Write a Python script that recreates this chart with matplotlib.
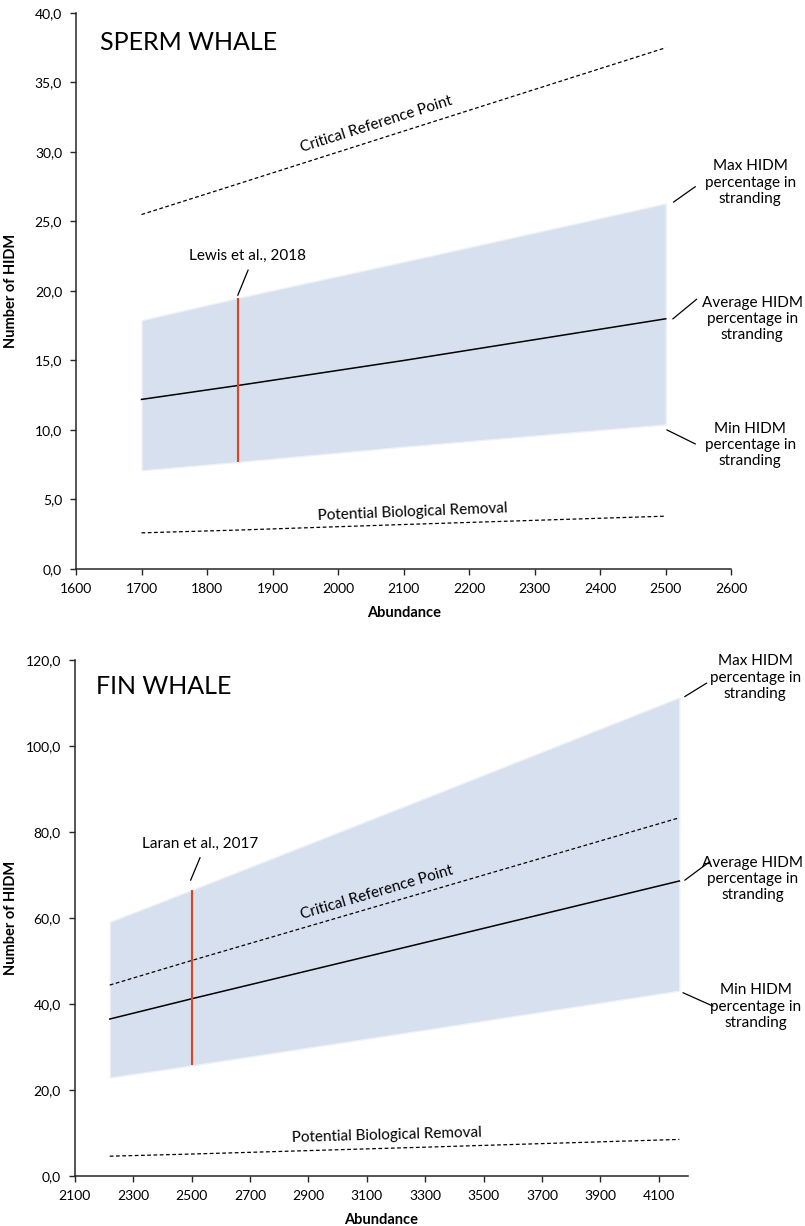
import numpy as np
import matplotlib
matplotlib.use('Agg')
import matplotlib.pyplot as plt
from matplotlib.ticker import FuncFormatter

plt.rcParams['font.family'] = ['Lato', 'DejaVu Sans']

# Sperm whale scenario
sperm_abundance = [1700, 1847, 2100, 2500]
sperm_max = [17.9, 19.5, 22.1, 26.3]
sperm_avg = [12.2, 13.2, 15.0, 18.0]
sperm_min = [7.1, 7.7, 8.8, 10.4]
sperm_crp = [25.5, 27.7, 31.5, 37.5]
sperm_pbr = [2.6, 2.8, 3.2, 3.8]
lewis_abundance = 1847

# Fin whale scenario
fin_abundance = [2220, 2500, 3300, 4170]
fin_max = [59.1, 66.5, 87.9, 111.3]
fin_avg = [36.5, 41.2, 54.3, 68.6]
fin_min = [22.9, 25.7, 34.0, 43.1]
fin_crp = [44.4, 50.1, 66.0, 83.3]
fin_pbr = [4.6, 5.1, 6.7, 8.5]
laran_abundance = 2500

band_color = '#D6E0EE'
red = '#E8401C'
label_txt = 'percentage in\nstranding'
fs = 11

fig = plt.figure(figsize=(8.05, 12.26), dpi=100)
ax1 = fig.add_axes([0.0944, 0.5359, 0.814, 0.4535])
ax2 = fig.add_axes([0.0928, 0.0408, 0.762, 0.4209])

comma = FuncFormatter(lambda v, p: f'{v:.1f}'.replace('.', ','))


def style_axes(ax, ylab_x):
    for s in ['top', 'right']:
        ax.spines[s].set_visible(False)
    for s in ['left', 'bottom']:
        ax.spines[s].set_linewidth(1.1)
        ax.spines[s].set_color('#262626')
    ax.tick_params(axis='both', direction='out', length=4, width=1.0,
                   color='#262626', labelsize=10, labelcolor='black')
    ax.tick_params(axis='y', pad=6)
    ax.tick_params(axis='x', pad=6)
    ax.yaxis.set_major_formatter(comma)
    ax.set_xlabel('Abundance', fontsize=10.5, fontweight='bold', labelpad=8)
    ax.set_ylabel('Number of HIDM', fontsize=10.5, fontweight='bold')
    ax.yaxis.set_label_coords(ylab_x, 0.5)


def draw(ax, n, vmax, vavg, vmin, crp, pbr, ref_n):
    ax.fill_between(n, vmin, vmax, color=band_color, edgecolor='#eef2f8', linewidth=1, zorder=1)
    ax.plot(n, vavg, color='black', lw=1.1, zorder=3)
    ax.plot(n, crp, color='black', lw=0.9, ls=(0, (3, 2)), zorder=3)
    ax.plot(n, pbr, color='black', lw=0.9, ls=(0, (3, 2)), zorder=3)
    i = n.index(ref_n)
    ax.vlines(ref_n, vmin[i], vmax[i], color=red, lw=1.5, zorder=4)


# --- Sperm whale ---
draw(ax1, sperm_abundance, sperm_max, sperm_avg, sperm_min, sperm_crp, sperm_pbr, lewis_abundance)
ax1.set_xlim(1600, 2600)
ax1.set_ylim(0, 40)
ax1.set_xticks(np.arange(1600, 2601, 100))
ax1.set_yticks(np.arange(0, 40.1, 5))
style_axes(ax1, -0.088)

ax1.text(1637, 37.9, 'SPERM WHALE', fontsize=18, va='center', ha='left')
ax1.text(2058, 32.0, 'Critical Reference Point', fontsize=fs, rotation=17.5,
         ha='center', va='center', rotation_mode='anchor')
ax1.text(2114, 4.1, 'Potential Biological Removal', fontsize=fs, rotation=2.3,
         ha='center', va='center', rotation_mode='anchor')
ax1.text(1861, 22.5, 'Lewis et al., 2018', fontsize=fs, ha='center', va='center')
ax1.plot([1847, 1862.6], [19.7, 21.5], color='black', lw=0.9, clip_on=False)

ax1.text(2629, 27.8, 'Max HIDM\n' + label_txt, fontsize=fs, ha='center', va='center',
         linespacing=1.2)
ax1.plot([2512, 2545], [26.4, 27.5], color='black', lw=0.9, clip_on=False)
ax1.text(2632, 18.0, 'Average HIDM\n' + label_txt, fontsize=fs, ha='center', va='center',
         linespacing=1.2)
ax1.plot([2511, 2547], [18.0, 19.4], color='black', lw=0.9, clip_on=False)
ax1.text(2629, 8.9, 'Min HIDM\n' + label_txt, fontsize=fs, ha='center', va='center',
         linespacing=1.2)
ax1.plot([2502, 2545], [10.0, 9.0], color='black', lw=0.9, clip_on=False)

# --- Fin whale ---
draw(ax2, fin_abundance, fin_max, fin_avg, fin_min, fin_crp, fin_pbr, laran_abundance)
ax2.set_xlim(2100, 4200)
ax2.set_ylim(0, 120)
ax2.set_xticks(np.arange(2100, 4101, 200))
ax2.set_yticks(np.arange(0, 120.1, 20))
style_axes(ax2, -0.092)

ax2.text(2173, 113.8, 'FIN WHALE', fontsize=18, va='center', ha='left')
ax2.text(3136, 65.8, 'Critical Reference Point', fontsize=fs, rotation=16.5,
         ha='center', va='center', rotation_mode='anchor')
ax2.text(3169, 9.4, 'Potential Biological Removal', fontsize=fs, rotation=1.6,
         ha='center', va='center', rotation_mode='anchor')
ax2.text(2529, 77.2, 'Laran et al., 2017', fontsize=fs, ha='center', va='center')
ax2.plot([2497, 2529], [68.8, 74.0], color='black', lw=0.9, clip_on=False)

ax2.text(4430, 115.9, 'Max HIDM\n' + label_txt, fontsize=fs, ha='center', va='center',
         linespacing=1.2)
ax2.plot([4189, 4263], [111.5, 114.6], color='black', lw=0.9, clip_on=False)
ax2.text(4420, 69.0, 'Average HIDM\n' + label_txt, fontsize=fs, ha='center', va='center',
         linespacing=1.2)
ax2.plot([4189, 4274], [68.8, 73.1], color='black', lw=0.9, clip_on=False)
ax2.text(4432, 39.4, 'Min HIDM\n' + label_txt, fontsize=fs, ha='center', va='center',
         linespacing=1.2)
ax2.plot([4183, 4285], [42.6, 39.5], color='black', lw=0.9, clip_on=False)

fig.savefig('out.png', dpi=100)
